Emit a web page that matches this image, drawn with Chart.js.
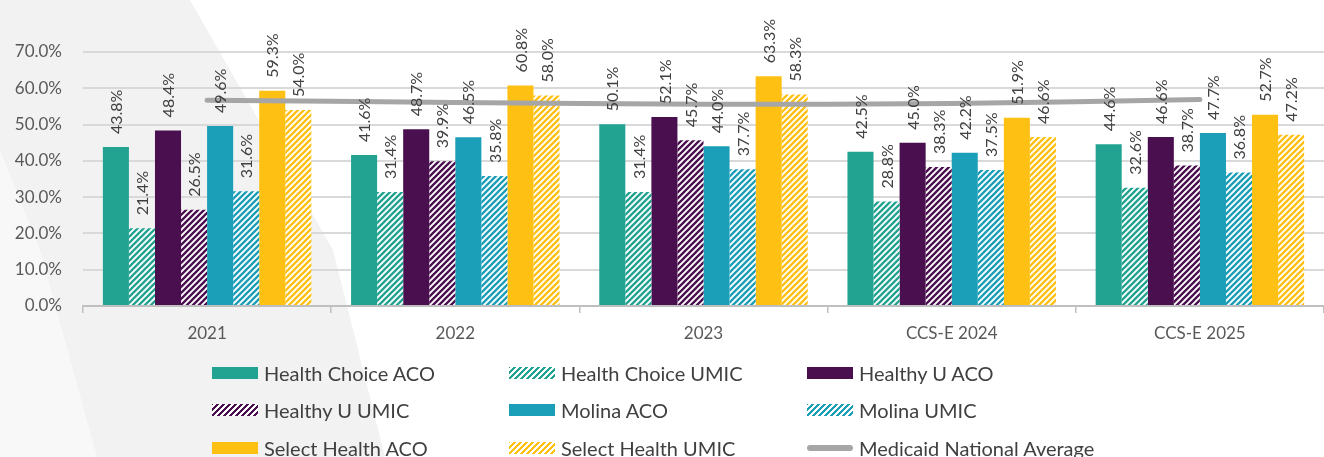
<!DOCTYPE html>
<html>
<head>
<meta charset="utf-8">
<script src="https://cdn.jsdelivr.net/npm/chart.js@4.4.1/dist/chart.umd.min.js"></script>
<style>
  html, body { margin: 0; padding: 0; background: #fff; }
  #wrap { position: relative; width: 1324px; height: 457px; overflow: hidden;
          font-family: "Lato", sans-serif; }
  .bg { position: absolute; left: 0; top: 0; width: 1324px; height: 457px; }
  #bg1 { background: #f2f2f2; clip-path: polygon(0 0, 190px 0, 333px 250px, 385px 457px, 0 457px); }
  #bg2 { background: #f8f8f8; clip-path: polygon(0 150px, 40px 250px, 97px 457px, 0 457px); }
  canvas { position: absolute; left: 0; top: 0; }
  #legend { position: absolute; left: 0; top: 0; }
  .item { position: absolute; display: flex; align-items: center; font-size: 20px; color: #404040; white-space: nowrap; }
  .sw { width: 46px; height: 12px; margin-right: 6px; box-sizing: border-box; }
  .ln { width: 46px; height: 6px; border-radius: 3px; margin-right: 6px; background: #a6a6a6; }
</style>
</head>
<body>
<div id="wrap">
  <div class="bg" id="bg1"></div>
  <div class="bg" id="bg2"></div>
  <canvas id="chart" width="1324" height="457"></canvas>
  <div id="legend"></div>
</div>
<script>
const categories = ['2021', '2022', '2023', 'CCS-E 2024', 'CCS-E 2025'];
const healthChoiceACO  = [43.8, 41.6, 50.1, 42.5, 44.6];
const healthChoiceUMIC = [21.4, 31.4, 31.4, 28.8, 32.6];
const healthyUACO      = [48.4, 48.7, 52.1, 45.0, 46.6];
const healthyUUMIC     = [26.5, 39.9, 45.7, 38.3, 38.7];
const molinaACO        = [49.6, 46.5, 44.0, 42.2, 47.7];
const molinaUMIC       = [31.6, 35.8, 37.7, 37.5, 36.8];
const selectHealthACO  = [59.3, 60.8, 63.3, 51.9, 52.7];
const selectHealthUMIC = [54.0, 58.0, 58.3, 46.6, 47.2];
const medicaidAverage  = [56.7, 56.1, 55.6, 55.8, 56.9];
const yTicks = [0, 10, 20, 30, 40, 50, 60, 70];

const TEAL = '#22a391', PURPLE = '#4a0f4e', BLUE = '#1b9eb7', YELLOW = '#fec013', GRAY = '#a6a6a6';
const FONT = '"Lato", sans-serif';

// diagonal stripe fill like Excel's wide upward diagonal
function stripes(color) {
  const c = document.createElement('canvas');
  c.width = 6; c.height = 6;
  const g = c.getContext('2d');
  g.fillStyle = '#fff';
  g.fillRect(0, 0, 6, 6);
  g.strokeStyle = color;
  g.lineWidth = 2.3;
  g.beginPath();
  for (let k = -6; k <= 12; k += 6) {
    g.moveTo(k - 1, 7);
    g.lineTo(k + 7, -1);
  }
  g.stroke();
  return g.createPattern(c, 'repeat');
}

const series = [
  { label: 'Health Choice ACO', data: healthChoiceACO, color: TEAL, hatch: false },
  { label: 'Health Choice UMIC', data: healthChoiceUMIC, color: TEAL, hatch: true },
  { label: 'Healthy U ACO', data: healthyUACO, color: PURPLE, hatch: false },
  { label: 'Healthy U UMIC', data: healthyUUMIC, color: PURPLE, hatch: true },
  { label: 'Molina ACO', data: molinaACO, color: BLUE, hatch: false },
  { label: 'Molina UMIC', data: molinaUMIC, color: BLUE, hatch: true },
  { label: 'Select Health ACO', data: selectHealthACO, color: YELLOW, hatch: false },
  { label: 'Select Health UMIC', data: selectHealthUMIC, color: YELLOW, hatch: true }
];

const datasets = series.map(s => ({
  type: 'bar',
  label: s.label,
  data: s.data,
  backgroundColor: s.hatch ? stripes(s.color) : s.color,
  borderWidth: 0,
  categoryPercentage: 0.84,
  barPercentage: 1.0,
  order: 2
}));
datasets.push({
  type: 'line',
  label: 'Medicaid National Average',
  data: medicaidAverage,
  borderColor: GRAY,
  borderWidth: 5,
  pointRadius: 0,
  tension: 0.35,
  borderCapStyle: 'round',
  order: 1
});

// rotated value labels above each bar
const barLabels = {
  id: 'barLabels',
  afterDatasetsDraw(chart) {
    const ctx = chart.ctx;
    ctx.save();
    ctx.font = '16px ' + FONT;
    ctx.fillStyle = '#404040';
    ctx.textAlign = 'left';
    ctx.textBaseline = 'middle';
    chart.data.datasets.forEach((ds, i) => {
      if (ds.type !== 'bar') return;
      chart.getDatasetMeta(i).data.forEach((bar, j) => {
        ctx.save();
        ctx.translate(bar.x + 1, bar.y - 13);
        ctx.rotate(-Math.PI / 2);
        ctx.fillText(ds.data[j].toFixed(1) + '%', 0, 0);
        ctx.restore();
      });
    });
    ctx.restore();
  }
};

new Chart(document.getElementById('chart'), {
  data: { labels: categories, datasets: datasets },
  options: {
    responsive: false,
    animation: false,
    layout: { padding: { top: 52, bottom: 106, right: 0, left: 0 } },
    plugins: { legend: { display: false }, tooltip: { enabled: false } },
    scales: {
      x: {
        offset: true,
        grid: { offset: true, drawOnChartArea: false, drawTicks: true, tickLength: 7, color: '#bfbfbf', lineWidth: 1.5 },
        border: { display: true, color: '#bfbfbf', width: 2 },
        ticks: { color: '#595959', font: { size: 17, family: FONT }, padding: 10 },
        afterFit(scale) { scale.height = 45; }
      },
      y: {
        min: 0,
        max: 70,
        afterBuildTicks(scale) { scale.ticks = yTicks.map(v => ({ value: v })); },
        grid: { color: '#d9d9d9', lineWidth: 2, drawTicks: false },
        border: { display: false },
        ticks: { color: '#595959', font: { size: 17, family: FONT }, padding: 21,
                 callback: v => v.toFixed(1) + '%' },
        afterFit(scale) { scale.width = 83; }
      }
    }
  },
  plugins: [barLabels]
});

// legend, three columns like the original
const legend = document.getElementById('legend');
const cols = [212, 509, 807];
const rows = [373, 410, 448];
const legendItems = series.map(s => ({ label: s.label, color: s.color, hatch: s.hatch }))
  .concat([{ label: 'Medicaid National Average', line: true }]);
legendItems.forEach((it, i) => {
  const el = document.createElement('div');
  el.className = 'item';
  el.style.left = cols[i % 3] + 'px';
  el.style.top = (rows[Math.floor(i / 3)] - 13) + 'px';
  el.style.height = '26px';
  const sw = document.createElement('span');
  if (it.line) {
    sw.className = 'ln';
  } else {
    sw.className = 'sw';
    sw.style.background = it.hatch
      ? 'repeating-linear-gradient(-45deg, #fff 0 1.8px, ' + it.color + ' 1.8px 4.2px)'
      : it.color;
  }
  el.appendChild(sw);
  el.appendChild(document.createTextNode(it.label));
  legend.appendChild(el);
});
</script>
</body>
</html>
